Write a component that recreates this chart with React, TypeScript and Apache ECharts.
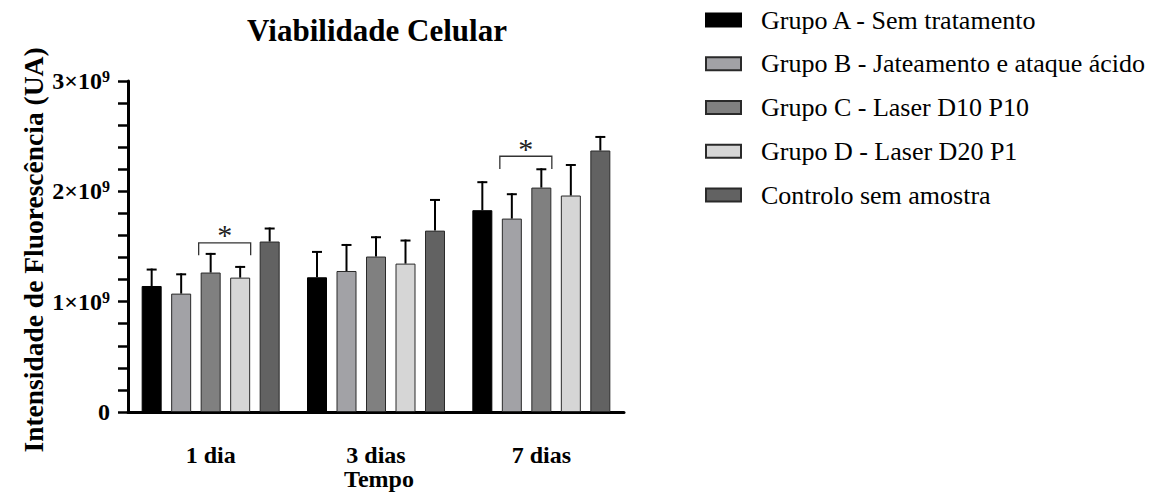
import React, { useEffect, useRef } from "react";
import * as echarts from "echarts";

const categories = ["1 dia", "3 dias", "7 dias"];
const groupNames = [
  "Grupo A - Sem tratamento",
  "Grupo B - Jateamento e ataque ácido",
  "Grupo C - Laser D10 P10",
  "Grupo D - Laser D20 P1",
  "Controlo sem amostra",
];
const groupA = [1.142e9, 1.221e9, 1.829e9];
const groupB = [1.073e9, 1.278e9, 1.753e9];
const groupC = [1.264e9, 1.409e9, 2.034e9];
const groupD = [1.218e9, 1.345e9, 1.962e9];
const controlo = [1.545e9, 1.644e9, 2.37e9];
const sdA = [0.158e9, 0.239e9, 0.263e9];
const sdB = [0.184e9, 0.245e9, 0.23e9];
const sdC = [0.178e9, 0.184e9, 0.175e9];
const sdD = [0.106e9, 0.218e9, 0.286e9];
const sdE = [0.127e9, 0.287e9, 0.132e9];
const yTicks = [0, 1e9, 2e9, 3e9];
// significance brackets: [category index, from group, to group, bracket level, leg end level]
const brackets = [
  [0, 2, 3, 1.532e9, 1.42e9],
  [2, 1, 2, 2.318e9, 2.203e9],
];

const colors = ["#000000", "#a2a2a6", "#808080", "#d6d6d6", "#626262"];
const FONT = "Liberation Serif";
const BAR_W = 20;
const BAR_GAP = 9.5;

export default function App() {
  const ref = useRef<HTMLDivElement>(null);
  useEffect(() => {
    if (!ref.current) return;
    const chart = echarts.init(ref.current, undefined, { renderer: "svg" });
    const means = [groupA, groupB, groupC, groupD, controlo];
    const sds = [sdA, sdB, sdC, sdD, sdE];
    const errData: number[][] = [];
    means.forEach((arr, s) =>
      arr.forEach((m, c) => errData.push([c, s, m, m + sds[s][c]]))
    );
    const pitch = BAR_W + BAR_GAP;
    const barSeries = means.map((arr, s) => ({
      name: groupNames[s],
      type: "bar",
      data: arr,
      barWidth: BAR_W,
      barGap: (BAR_GAP / BAR_W) * 100 + "%",
      itemStyle: {
        color: colors[s],
        borderColor: s === 0 ? "#000" : "#2a2a2a",
        borderWidth: 1,
      },
      z: 2,
    }));
    const legendText = {
      fontFamily: FONT,
      fontSize: 26,
      lineHeight: 26,
      color: "#000",
      padding: [0, 0, 0, 15],
    };
    chart.setOption({
      animation: false,
      color: [...colors, "#000", "#222"],
      textStyle: { fontFamily: FONT },
      grid: { left: 128, right: 542, top: 81, bottom: 86 },
      legend: {
        data: groupNames.map((name) => ({ name, textStyle: legendText })),
        orient: "vertical",
        left: 705,
        top: 7,
        padding: 0,
        itemWidth: 35,
        itemHeight: 13,
        itemGap: 17.75,
        icon: "rect",
        selectedMode: false,
        textStyle: legendText,
      },
      xAxis: {
        type: "category",
        data: categories,
        axisLine: { lineStyle: { color: "#000", width: 3 } },
        axisTick: {
          alignWithLabel: true,
          length: 12,
          lineStyle: { color: "#000", width: 3 },
        },
        axisLabel: {
          fontFamily: FONT,
          fontSize: 24,
          fontWeight: "bold",
          color: "#000",
          margin: 31,
        },
      },
      yAxis: {
        type: "value",
        min: yTicks[0],
        max: yTicks[yTicks.length - 1],
        interval: 1e9,
        splitLine: { show: false },
        axisLine: { show: true, lineStyle: { color: "#000", width: 3 } },
        axisTick: { show: true, length: 10, lineStyle: { color: "#000", width: 2.5 } },
        minorTick: { show: true, splitNumber: 5, length: 10, lineStyle: { color: "#000", width: 2.5 } },
        axisLabel: {
          margin: 18,
          formatter: (v: number) =>
            v === 0 ? "{n|0}" : `{n|${Math.round(v / 1e9)}×10}{s|9}`,
          rich: {
            n: { fontFamily: FONT, fontSize: 24, fontWeight: "bold", color: "#000", lineHeight: 25 },
            s: {
              fontFamily: FONT,
              fontSize: 16,
              fontWeight: "bold",
              color: "#000",
              verticalAlign: "top",
              lineHeight: 16,
            },
          },
        },
      },
      series: [
        ...barSeries,
        {
          type: "custom",
          name: "err",
          z: 3,
          encode: { x: 0, y: 3 },
          data: errData,
          renderItem: (params: any, api: any) => {
            const c = api.value(0);
            const s = api.value(1);
            const base = api.coord([c, api.value(2)]);
            const top = api.coord([c, api.value(3)]);
            const x = base[0] + (s - 2) * pitch;
            const style = { stroke: "#000", lineWidth: 2 };
            return {
              type: "group",
              children: [
                { type: "line", shape: { x1: x, y1: base[1], x2: x, y2: top[1] }, style },
                { type: "line", shape: { x1: x - 5, y1: top[1] + 1, x2: x + 5, y2: top[1] + 1 }, style },
              ],
            };
          },
        },
        {
          type: "custom",
          name: "sig",
          z: 3,
          encode: { x: 0, y: 3 },
          data: brackets,
          renderItem: (params: any, api: any) => {
            const c = api.value(0);
            const from = api.value(1);
            const to = api.value(2);
            const t = api.coord([c, api.value(3)]);
            const l = api.coord([c, api.value(4)]);
            const xl = t[0] + (from - 2) * pitch - BAR_W / 2 - 2;
            const xr = t[0] + (to - 2) * pitch + BAR_W / 2 + 0.5;
            return {
              type: "group",
              children: [
                {
                  type: "polyline",
                  shape: { points: [[xl, l[1]], [xl, t[1]], [xr, t[1]], [xr, l[1]]] },
                  style: { stroke: "#333", lineWidth: 1.3, fill: null },
                },
                {
                  type: "text",
                  x: (xl + xr) / 2,
                  y: t[1] + 7,
                  style: {
                    text: "*",
                    fontFamily: FONT,
                    fontSize: 30,
                    fill: "#222",
                    textAlign: "center",
                    textVerticalAlign: "bottom",
                  },
                },
              ],
            };
          },
        },
      ],
      graphic: [
        {
          type: "text",
          x: 377,
          y: 30,
          style: {
            text: "Viabilidade Celular",
            fontFamily: FONT,
            fontSize: 31,
            fontWeight: "bold",
            fill: "#000",
            textAlign: "center",
            textVerticalAlign: "middle",
          },
        },
        {
          type: "text",
          x: 33,
          y: 250,
          rotation: Math.PI / 2,
          style: {
            text: "Intensidade de Fluorescência (UA)",
            fontFamily: FONT,
            fontSize: 27.5,
            fontWeight: "bold",
            fill: "#000",
            textAlign: "center",
            textVerticalAlign: "middle",
          },
        },
        {
          type: "text",
          x: 379,
          y: 479,
          style: {
            text: "Tempo",
            fontFamily: FONT,
            fontSize: 24,
            fontWeight: "bold",
            fill: "#000",
            textAlign: "center",
            textVerticalAlign: "middle",
          },
        },
      ],
    });
    return () => chart.dispose();
  }, []);
  return (
    <div
      ref={ref}
      style={{ position: "fixed", left: 0, top: 0, width: 1166, height: 498, background: "#fff" }}
    />
  );
}
